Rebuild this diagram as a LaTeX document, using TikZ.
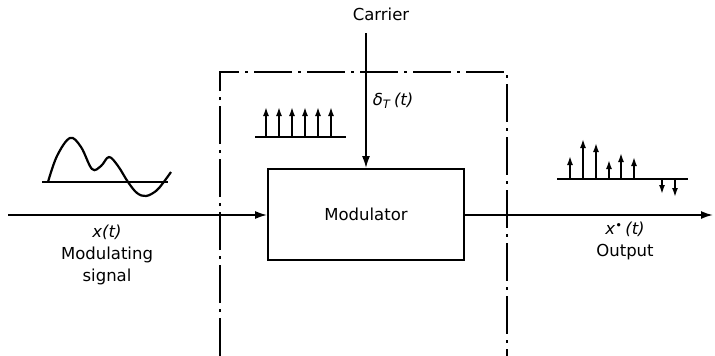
\documentclass[tikz,border=0pt]{standalone}
\usepackage{fontspec}
\setmainfont{DejaVu Sans}
\usetikzlibrary{arrows.meta}
\begin{document}
\begin{tikzpicture}[x=1pt,y=-1pt,
  line width=1.8pt,
  txt/.style={font=\fontsize{16.5}{22}\selectfont, inner sep=0pt, align=center},
  bigarrow/.style={-{Latex[length=12pt,width=8pt]}},
  imp/.style={line width=1.6pt,-{Latex[length=9pt,width=6pt]}},
  dashdot/.style={line width=1.8pt, dash pattern=on 38pt off 6pt on 3pt off 6pt},
  modbox/.style={draw, minimum width=196pt, minimum height=91pt, inner sep=0pt, font=\fontsize{16.5}{22}\selectfont}]
\useasboundingbox (0,0) rectangle (715,356);

% dash-dot enclosure (open at bottom)
\draw[dashdot] (220,356) -- (220,72) -- (507,72) -- (507,356);

% modulator
\node[modbox] (mod) at (366,214.5) {Modulator};

% carrier
\node[txt] (carrier) at (381,14) {Carrier};
\coordinate (cstart) at (mod.north |- 0,33);
\draw[bigarrow] (cstart) -- (mod.north);
\node[txt, anchor=west] (delta) at (372,101) {\textit{δ}\textsubscript{\textit{T}}\,\textit{(t)}};

% input
\coordinate (in) at (8,215);
\draw[bigarrow] (in) -- (in -| mod.west);
\node[txt] (inlbl) at (107,255) {\textit{x(t)}\\Modulating\\signal};

% output
\coordinate (out) at (713,215);
\draw[bigarrow] (out -| mod.east) -- (out);
\node[txt] (outlbl) at (625,241) {\textit{x}\textsuperscript{\raisebox{-1pt}{•}}\,\textit{(t)}\\Output};

% modulating signal sketch
\draw (42,182) -- (168,182);
\draw[line width=2.2pt] plot[smooth, tension=0.6] coordinates {(48,182) (57,156) (70,138) (81,147) (92,169) (101,166) (109,157) (118,166) (128,182) (137,193) (146,196) (156,191) (163,183) (171,172)};

% carrier impulse train
\draw (255,137) -- (346,137);
\foreach \xx in {266,279,292,305,318,331}
  \draw[imp] (\xx,137) -- (\xx,107);

% sampled output
\draw (557,179) -- (688,179);
\foreach \xx/\yy in {570/156,583/139,596/143,609/160,621/153,634/157}
  \draw[imp] (\xx,179) -- (\xx,\yy);
\foreach \xx/\yy in {662/194,675/197}
  \draw[imp] (\xx,179) -- (\xx,\yy);
\end{tikzpicture}
\end{document}
